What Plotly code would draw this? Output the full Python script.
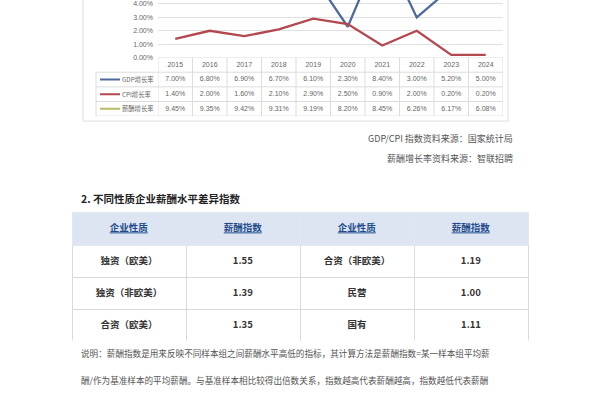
import plotly.graph_objects as go

# ---- data ----
years = ["2015", "2016", "2017", "2018", "2019", "2020", "2021", "2022", "2023", "2024"]
gdp_growth = [7.00, 6.80, 6.90, 6.70, 6.10, 2.30, 8.40, 3.00, 5.20, 5.00]
cpi_growth = [1.40, 2.00, 1.60, 2.10, 2.90, 2.50, 0.90, 2.00, 0.20, 0.20]
wage_growth = [9.45, 9.35, 9.42, 9.31, 9.19, 8.20, 8.45, 6.26, 6.17, 6.08]
series_names = ["GDP增长率", "CPI增长率", "薪酬增长率"]
y_ticks = [0, 1, 2, 3, 4]

table_header = ["企业性质", "薪酬指数", "企业性质", "薪酬指数"]
ent_type_left = ["独资（欧美）", "独资（非欧美）", "合资（欧美）"]
index_left = [1.55, 1.39, 1.35]
ent_type_right = ["合资（非欧美）", "民营", "国有"]
index_right = [1.19, 1.00, 1.11]

source_lines = ["GDP/CPI 指数资料来源：国家统计局", "薪酬增长率资料来源：智联招聘"]
section_title = "2. 不同性质企业薪酬水平差异指数"
note_lines = [
    "说明：薪酬指数是用来反映不同样本组之间薪酬水平高低的指标，其计算方法是薪酬指数=某一样本组平均薪",
    "酬/作为基准样本的平均薪酬。与基准样本相比较得出倍数关系，指数越高代表薪酬越高，指数越低代表薪酬",
]

colors = ["#4F6B9E", "#B5474E", "#B9BA6A"]
W, H = 600, 400
CJK = "Noto Sans CJK SC"
GRID = "#DCDCDC"

def px(xp):
    return xp / W

def py(yp):
    return 1 - yp / H

all_series = [gdp_growth, cpi_growth, wage_growth]
fig = go.Figure()

for name, vals, col in zip(series_names, all_series, colors):
    fig.add_trace(go.Scatter(x=years, y=vals, mode="lines", name=name,
                             line=dict(color=col, width=2.3), showlegend=False,
                             hoverinfo="skip"))

# ---- data table under the chart (rows on y2: 0.5 = years, 1.5.. = series) ----
tx, ty, tt = [], [], []
for i, yr in enumerate(years):
    tx.append(yr); ty.append(0.5); tt.append(yr)
    for r, s in enumerate(all_series):
        tx.append(yr); ty.append(r + 1.5); tt.append(f"{s[i]:.2f}%")
fig.add_trace(go.Scatter(x=tx, y=ty, text=tt, mode="text", yaxis="y2", showlegend=False,
                         hoverinfo="skip", cliponaxis=False,
                         textfont=dict(size=7, color="#666666", family="Liberation Sans")))

shapes = []
# chart frame
shapes.append(dict(type="rect", xref="paper", yref="paper", x0=px(83), x1=px(508), y0=py(122), y1=1.2,
                   line=dict(color="#DDDDDD", width=1), fillcolor="rgba(0,0,0,0)", layer="below"))
# horizontal table lines
shapes.append(dict(type="line", xref="paper", yref="y2", x0=px(158), x1=px(503), y0=0, y1=0,
                   line=dict(color=GRID, width=1)))
for r in range(1, len(all_series) + 2):
    shapes.append(dict(type="line", xref="paper", yref="y2", x0=px(96), x1=px(503), y0=r, y1=r,
                       line=dict(color=GRID, width=1)))
# vertical table lines
for k in range(len(years) + 1):
    shapes.append(dict(type="line", xref="x", yref="y2", x0=k - 0.5, x1=k - 0.5, y0=0, y1=4,
                       line=dict(color=GRID, width=1)))
shapes.append(dict(type="line", xref="paper", yref="y2", x0=px(96), x1=px(96), y0=1, y1=4,
                   line=dict(color=GRID, width=1)))
# legend keys
for r, col in enumerate(colors):
    shapes.append(dict(type="line", xref="paper", yref="y2", x0=px(100), x1=px(120),
                       y0=r + 1.5, y1=r + 1.5, line=dict(color=col, width=2)))

annotations = []
for r, n in enumerate(series_names):
    annotations.append(dict(text=n, x=px(120), y=r + 1.5, xref="paper", yref="y2",
                            xanchor="left", yanchor="middle", showarrow=False,
                            font=dict(size=6.3, color="#666666", family=CJK)))
for i, t in enumerate(source_lines):
    annotations.append(dict(text=t, x=px(515), y=py([140, 160][i]), xref="paper", yref="paper",
                            xanchor="right", yanchor="middle", showarrow=False,
                            font=dict(size=9, color="#555555", family=CJK)))
annotations.append(dict(text=f"<b>{section_title}</b>", x=px(79), y=py(200), xref="paper", yref="paper",
                        xanchor="left", yanchor="middle", showarrow=False,
                        font=dict(size=10.5, color="#222222", family=CJK)))
for i, t in enumerate(note_lines):
    annotations.append(dict(text=t, x=px(79), y=py([356, 383][i]), xref="paper", yref="paper",
                            xanchor="left", yanchor="middle", showarrow=False,
                            font=dict(size=8.6, color="#555555", family=CJK)))

# ---- enterprise table ----
head_font = dict(size=9.5, color="#1F4A8C", family=CJK)
try:
    go.table.header.Font(lineposition="under")
    head_font["lineposition"] = "under"
except Exception:
    pass
fig.add_trace(go.Table(
    domain=dict(x=[px(72), px(528)], y=[py(343), py(214)]),
    columnwidth=[1, 1, 1, 1],
    header=dict(values=[f"<b>{h}</b>" for h in table_header],
                height=33, align="center", fill_color="#DCE5F1",
                line=dict(color="#E3E8EE", width=1), font=head_font),
    cells=dict(values=[[f"<b>{t}</b>" for t in ent_type_left],
                       [f"<b>{v:.2f}</b>" for v in index_left],
                       [f"<b>{t}</b>" for t in ent_type_right],
                       [f"<b>{v:.2f}</b>" for v in index_right]],
               height=32, align="center", fill_color="white",
               line=dict(color="#DADADA", width=1),
               font=dict(size=9.5, color="#333333", family=CJK)),
))

fig.update_layout(
    width=W, height=H,
    margin=dict(l=0, r=0, t=0, b=0),
    paper_bgcolor="white", plot_bgcolor="white",
    font=dict(family=CJK),
    xaxis=dict(domain=[px(158), px(503)], type="category", range=[-0.5, 9.5],
               showticklabels=False, showgrid=False, zeroline=False, showline=False, fixedrange=True),
    yaxis=dict(domain=[py(58), 1], range=[0, 58 / 13.5], tickvals=y_ticks,
               ticktext=[f"{v:.2f}%" for v in y_ticks], showgrid=True, gridcolor="#E0E0E0",
               gridwidth=1, zeroline=False, showline=False, ticks="", ticklabelstandoff=4,
               tickfont=dict(size=7, color="#666666", family="Liberation Sans"), fixedrange=True),
    yaxis2=dict(domain=[py(117), py(58)], range=[4, 0], anchor="x", visible=False,
                fixedrange=True),
    annotations=annotations,
    shapes=shapes,
)

# remove the browser's default 8px page margin so the figure sits at the window's corner
fig.write_html("out.html", config={"displayModeBar": False},
               post_script="document.body.style.margin='0';")
